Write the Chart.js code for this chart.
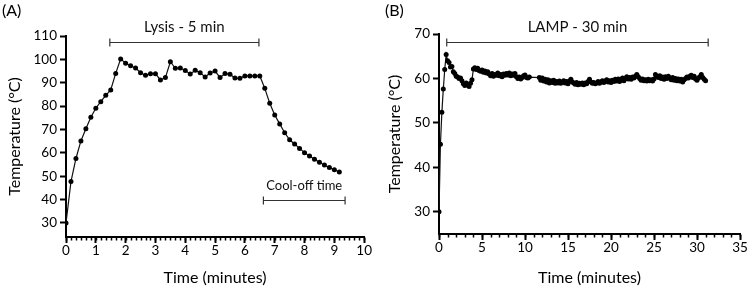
<!DOCTYPE html>
<html>
<head>
<meta charset="utf-8">
<script src="https://cdn.jsdelivr.net/npm/chart.js@4.4.1/dist/chart.umd.min.js"></script>
<style>
    html, body { margin: 0; padding: 0; background: #fff; }
    #wrap  { position: relative; width: 749px; height: 293px; overflow: hidden; }
    canvas { position: absolute; top: 0; }
    #chart-a { left: 0; }
    #chart-b { left: 372px; }
</style>
</head>
<body>
<div id="wrap">
    <canvas id="chart-a" width="372" height="293"></canvas>
    <canvas id="chart-b" width="377" height="293"></canvas>
</div>
<script>
// Both runs are logged every 10 s
const SAMPLE_STEP_MIN = 1 / 6;

// (A) lysis run, °C
const lysisTemps = [
    30.0, 47.7, 57.6, 65.1, 70.3, 75.2,
    79.1, 81.9, 84.6, 86.9, 94.0, 100.2,
    98.3, 97.3, 96.3, 94.3, 93.2, 93.9,
    93.9, 91.2, 92.2, 99.0, 96.2, 96.3,
    95.2, 93.7, 95.3, 94.3, 92.5, 94.2,
    95.0, 92.2, 94.0, 93.6, 92.0, 91.9,
    92.9, 92.9, 92.9, 92.9, 87.6, 81.2,
    76.2, 72.4, 68.6, 65.6, 63.8, 61.9,
    60.1, 58.7, 57.3, 56.0, 54.8, 53.7,
    52.8, 51.8,
];

// (B) LAMP run, °C, one row per minute (null = logger dropout)
const lampTemps = [
    30.0, 45.2, 52.4, 57.6, 62.0, 65.4,
    64.0, 63.6, 62.6, 62.7, 61.5, 61.1,
    60.5, 60.3, 60.0, 60.1, 59.5, 58.8,
    58.4, 59.0, 58.5, 58.2, 58.9, 59.7,
    62.1, 62.4, 62.0, 62.3, 61.8, 61.6,
    61.9, 61.4, 61.7, 61.2, 61.5, 61.0,
    60.6, 61.1, 60.5, 60.9, 60.7, 61.2,
    60.6, 60.9, 60.4, 61.0, 60.7, 61.1,
    60.8, 61.2, 60.6, 61.0, 60.7, 61.1,
    60.4, 60.0, 60.3, 59.9, 60.2, 60.6,
    60.8, 60.2, 60.1, 60.3, null, null,
    null, null, null, null, 60.2, 59.6,
    60.1, 59.4, 59.8, 59.2, 59.7, 59.0,
    59.5, 59.1, 59.6, 58.9, 59.3, 59.0,
    59.4, 58.9, 59.2, 59.5, 59.0, 59.3,
    58.8, 59.4, 59.8, 59.2, 59.0, 58.7,
    59.1, 58.6, 58.9, 58.7, 59.0, 58.6,
    59.0, 58.8, 59.3, 59.8, 59.2, 58.9,
    59.1, 58.8, 59.0, 59.3, 58.9, 59.2,
    59.5, 59.1, 59.4, 59.7, 59.2, 59.5,
    59.1, 59.6, 59.3, 59.8, 59.4, 59.9,
    59.3, 59.7, 60.1, 59.5, 60.0, 60.4,
    59.9, 60.2, 59.8, 60.3, 60.1, 60.5,
    60.9, 60.4, 60.0, 59.6, 59.9, 59.5,
    59.7, 59.4, 59.8, 59.5, 59.7, 59.4,
    59.9, 60.9, 60.5, 60.2, 60.6, 60.0,
    60.3, 59.8, 60.4, 60.0, 60.5, 60.1,
    59.7, 60.2, 59.6, 60.0, 59.5, 59.9,
    59.4, 59.8, 59.2, 59.7, 60.0, 60.3,
    60.1, 60.5, 60.7, 60.2, 60.5, 59.9,
    59.6, 60.1, 60.4, 60.9, 60.2, 59.8,
    59.5,
];

const lysisXTicks = [0, 1, 2, 3, 4, 5, 6, 7, 8, 9, 10];
const lysisYTicks = [30, 40, 50, 60, 70, 80, 90, 100, 110];
const lampXTicks  = [0, 5, 10, 15, 20, 25, 30, 35];
const lampYTicks  = [30, 40, 50, 60, 70];

const FONT = 'Lato, "Open Sans", sans-serif';

function toPoints(temps) {
    return temps.map((t, i) => ({ x: i * SAMPLE_STEP_MIN, y: t }));
}

// minor ticks, bracket annotations and the panel letter
const decorations = {
    id: 'decorations',
    afterDraw(chart, args, opts) {
        const { ctx, scales: { x, y }, chartArea } = chart;
        ctx.save();

        ctx.strokeStyle = '#000';
        ctx.lineWidth   = 1.5;
        ctx.beginPath();
        for (let v = x.min; v <= x.max + 1e-6; v += opts.minorStep) {
            const px = Math.round(x.getPixelForValue(v)) + 0.5;
            ctx.moveTo(px, chartArea.bottom);
            ctx.lineTo(px, chartArea.bottom + 3.5);
        }
        ctx.stroke();

        ctx.textAlign    = 'center';
        ctx.textBaseline = 'middle';
        for (const b of opts.brackets) {
            const x1 = x.getPixelForValue(b.from);
            const x2 = x.getPixelForValue(b.to);
            const yy = Math.round(y.getPixelForValue(b.at)) + 0.5;
            ctx.strokeStyle = '#333';
            ctx.lineWidth   = 1.2;
            ctx.beginPath();
            ctx.moveTo(x1, yy); ctx.lineTo(x2, yy);
            ctx.moveTo(x1, yy - 4); ctx.lineTo(x1, yy + 4);
            ctx.moveTo(x2, yy - 4); ctx.lineTo(x2, yy + 4);
            ctx.stroke();
            ctx.fillStyle = '#111';
            ctx.font      = `${b.size}px ${FONT}`;
            ctx.fillText(b.label, (x1 + x2) / 2, yy - b.gap);
        }

        ctx.textAlign = 'left';
        ctx.font      = `16px ${FONT}`;
        ctx.fillStyle = '#000';
        ctx.fillText(opts.letter, opts.letterX, 11);
        ctx.restore();
    },
};

function panelChart(canvasId, cfg) {
    const tickFont  = { family: FONT, size: 13.5 };
    const titleFont = { family: FONT, size: 16 };
    return new Chart(document.getElementById(canvasId), {
        type: 'line',
        data: {
            datasets: [{
                data:                 toPoints(cfg.temps),
                borderColor:          '#111',
                borderWidth:          1.2,
                pointRadius:          2.5,
                pointBackgroundColor: '#000',
                pointBorderWidth:     0,
                spanGaps:             true,
                tension:              0,
            }],
        },
        options: {
            responsive: false,
            animation:  false,
            layout:     { padding: { top: cfg.top, right: cfg.right, left: 0, bottom: 0 } },
            plugins: {
                legend:      { display: false },
                tooltip:     { enabled: false },
                decorations: cfg.decorations,
            },
            scales: {
                x: {
                    type: 'linear',
                    min:  cfg.xTicks[0],
                    max:  cfg.xTicks[cfg.xTicks.length - 1],
                    afterBuildTicks: s => { s.ticks = cfg.xTicks.map(v => ({ value: v })); },
                    afterFit:        s => { s.height = cfg.xHeight; },
                    border: { color: '#000', width: 2 },
                    grid:   { drawOnChartArea: false, tickLength: 6, tickColor: '#000', tickWidth: 2 },
                    ticks:  { color: '#000', font: tickFont, padding: 0, maxRotation: 0, autoSkip: false },
                    title:  { display: true, text: 'Time (minutes)', color: '#000', font: titleFont,
                              padding: { top: 0, bottom: 6 } },
                },
                y: {
                    min: cfg.yMin,
                    max: cfg.yTicks[cfg.yTicks.length - 1],
                    afterBuildTicks: s => { s.ticks = cfg.yTicks.map(v => ({ value: v })); },
                    afterFit:        s => { s.width = cfg.yWidth; },
                    border: { color: '#000', width: 2 },
                    grid:   { drawOnChartArea: false, tickLength: 6, tickColor: '#000', tickWidth: 2 },
                    ticks:  { color: '#000', font: tickFont, padding: 3 },
                    title:  { display: true, text: 'Temperature (°C)', color: '#000', font: titleFont,
                              padding: { top: cfg.yTitlePad, bottom: 0 } },
                },
            },
        },
        plugins: [decorations],
    });
}

panelChart('chart-a', {
    temps: lysisTemps, xTicks: lysisXTicks, yTicks: lysisYTicks, yMin: 24,
    top: 36, right: 6, xHeight: 56, yWidth: 66, yTitlePad: 5,
    decorations: {
        minorStep: 1 / 6,
        letter: '(A)', letterX: 2,
        brackets: [
            { label: 'Lysis - 5 min', from: 1.47, to: 6.47, at: 107.4, gap: 15, size: 15 },
            { label: 'Cool-off time', from: 6.62, to: 9.36, at: 40, gap: 15, size: 13 },
        ],
    },
});

panelChart('chart-b', {
    temps: lampTemps, xTicks: lampXTicks, yTicks: lampYTicks, yMin: 25,
    top: 34, right: 9, xHeight: 59, yWidth: 67, yTitlePad: 13,
    decorations: {
        minorStep: 1,
        letter: '(B)', letterX: 13,
        brackets: [
            { label: 'LAMP - 30 min', from: 0.9, to: 31.3, at: 68.3, gap: 15, size: 15 },
        ],
    },
});
</script>
</body>
</html>
